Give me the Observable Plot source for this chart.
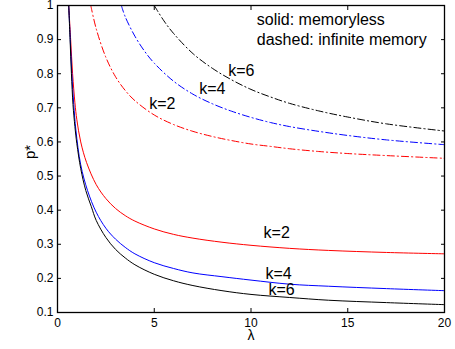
<!DOCTYPE html>
<html><head><meta charset="utf-8">
<script src="https://cdn.jsdelivr.net/npm/d3@7"></script>
<script src="https://cdn.jsdelivr.net/npm/@observablehq/plot@0.6"></script>
<style>
html,body{margin:0;padding:0;background:#fff}
#chart{width:455px;height:349px}
</style>
</head><body><div id="chart"></div>
<script>
// ---- data ----
// solid: memoryless
const lamS2 = [0, 0.58, 0.68, 0.78, 0.9, 1.0, 1.2, 1.5, 2.0, 2.5, 3.0, 3.5, 4.0, 5.0, 6.0, 7.0, 8.5, 10, 12, 14, 17, 20];
const pS2   = [1, 1, 0.90, 0.80, 0.715, 0.665, 0.60, 0.54, 0.475, 0.434, 0.405, 0.384, 0.368, 0.345, 0.329, 0.318, 0.306, 0.297, 0.288, 0.282, 0.276, 0.272];
const lamS4 = [0, 0.58, 0.66, 0.74, 0.84, 0.95, 1.2, 1.55, 2.0, 2.5, 3.0, 3.5, 4.0, 5.0, 6.0, 7.0, 8.5, 10, 12, 14, 17, 20];
const pS4   = [1, 1, 0.90, 0.80, 0.71, 0.635, 0.533, 0.458, 0.394, 0.347, 0.315, 0.291, 0.272, 0.246, 0.229, 0.216, 0.205, 0.195, 0.183, 0.177, 0.170, 0.164];
const lamS6 = [0, 0.58, 0.65, 0.72, 0.80, 0.9, 1.0, 1.2, 1.46, 1.75, 2.0, 2.5, 3.0, 3.5, 4.0, 5.0, 6.0, 7.0, 8.5, 10, 12, 14, 17, 20];
const pS6   = [1, 1, 0.90, 0.80, 0.71, 0.645, 0.595, 0.522, 0.458, 0.41, 0.37, 0.32, 0.285, 0.26, 0.24, 0.212, 0.193, 0.179, 0.164, 0.153, 0.144, 0.136, 0.129, 0.123];
// dashed: infinite memory
const lamD2 = [0, 1.72, 2.0, 2.5, 3.0, 3.5, 4.0, 5.0, 6.0, 7.0, 8.0, 9.0, 10, 11, 12, 13.5, 15, 17, 20];
const pD2   = [1, 1, 0.932, 0.848, 0.791, 0.751, 0.721, 0.679, 0.651, 0.631, 0.616, 0.604, 0.594, 0.587, 0.580, 0.572, 0.566, 0.560, 0.552];
const lamD4 = [0, 3.3, 3.5, 4.0, 4.5, 5.0, 6.0, 7.0, 8.0, 9.0, 10, 11, 12, 13.5, 15, 17, 20];
const pD4   = [1, 1, 0.967, 0.910, 0.866, 0.831, 0.778, 0.740, 0.712, 0.690, 0.672, 0.657, 0.645, 0.631, 0.619, 0.606, 0.592];
const lamD6 = [0, 5.0, 5.5, 6.0, 7.0, 8.0, 9.0, 10, 11, 12, 13.5, 15, 17, 20];
const pD6   = [1, 1, 0.955, 0.918, 0.859, 0.816, 0.782, 0.754, 0.732, 0.713, 0.691, 0.673, 0.653, 0.632];

const xTicks = [0, 5, 10, 15, 20];
const yTicks = [0.1, 0.2, 0.3, 0.4, 0.5, 0.6, 0.7, 0.8, 0.9, 1];

// annotations (data coordinates)
const solidLabels  = [{t: "k=2", lam: 10.65, p: 0.332}, {t: "k=4", lam: 10.75, p: 0.212}, {t: "k=6", lam: 10.9, p: 0.165}];
const dashedLabels = [{t: "k=2", lam: 4.74, p: 0.711}, {t: "k=4", lam: 7.32, p: 0.755}, {t: "k=6", lam: 8.82, p: 0.807}];
const legendLines  = [{t: "solid: memoryless", lam: 10.3, p: 0.959}, {t: "dashed: infinite memory", lam: 10.3, p: 0.899}];

const toRows = (lam, p) => lam.map((l, i) => ({lam: l, p: p[i]}));
const colors = {2: "#ff0000", 4: "#0000ff", 6: "#000000"};
const solid  = {2: toRows(lamS2, pS2), 4: toRows(lamS4, pS4), 6: toRows(lamS6, pS6)};
const dashed = {2: toRows(lamD2, pD2), 4: toRows(lamD4, pD4), 6: toRows(lamD6, pD6)};

const font = "'Liberation Sans', Arial, Helvetica, sans-serif";
const dash = "7,3,1.2,3";
const marks = [];
function addCurve(rows, k, dashed) {
  const style = {x: "lam", y: "p", stroke: colors[k], strokeWidth: 1};
  if (dashed) style.strokeDasharray = dash;
  // flat part at p = 1, then the smooth falling part
  marks.push(Plot.line(rows.slice(0, 2), {...style}));
  marks.push(Plot.line(rows.slice(1), {...style, curve: "catmull-rom"}));
}
for (const k of [2, 4, 6]) addCurve(dashed[k], k, true);
for (const k of [2, 4, 6]) addCurve(solid[k], k, false);

const chart = Plot.plot({
  width: 455, height: 349,
  marginLeft: 57, marginRight: 11, marginTop: 5, marginBottom: 37,
  style: {fontFamily: font, fontSize: "12px", color: "#000", background: "#fff"},
  x: {domain: [0, 20]},
  y: {domain: [0.1, 1]},
  marks: [
    ...marks,
    Plot.text(solidLabels, {x: "lam", y: "p", text: "t", textAnchor: "start", fontSize: 16, fill: "#000"}),
    Plot.text(dashedLabels, {x: "lam", y: "p", text: "t", textAnchor: "start", fontSize: 16, fill: "#000"}),
    Plot.text(legendLines, {x: "lam", y: "p", text: "t", textAnchor: "start", fontSize: 16, fill: "#000"}),
    Plot.axisX(xTicks, {anchor: "bottom", tickSize: -4, tickPadding: 10, label: null, fontSize: 12, tickFormat: d => `${d}`}),
    Plot.axisX(xTicks, {anchor: "top", tickSize: -4, label: null, tickFormat: () => ""}),
    Plot.axisY(yTicks, {anchor: "left", tickSize: -4, tickPadding: 8, label: null, fontSize: 12, tickFormat: d => `${d}`}),
    Plot.axisY(yTicks, {anchor: "right", tickSize: -4, label: null, tickFormat: () => ""}),
    Plot.frame({stroke: "#000", strokeWidth: 1.3}),
    Plot.text(["λ"], {text: d => d, frameAnchor: "bottom", dy: 27, fontSize: 14, fill: "#000"}),
    Plot.text(["p*"], {text: d => d, frameAnchor: "left", dx: -27, rotate: -90, fontSize: 15, fill: "#000"})
  ]
});
document.getElementById("chart").appendChild(chart);
</script>
</body></html>
